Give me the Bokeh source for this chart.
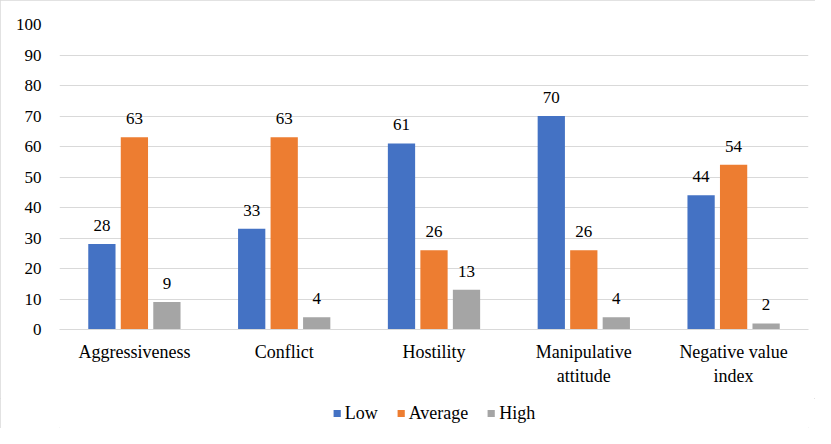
from bokeh.plotting import figure
from bokeh.layouts import column
from bokeh.models import ColumnDataSource, FactorRange, Legend, LegendItem, SingleIntervalTicker
from bokeh.transform import dodge
from bokeh.embed import file_html
from bokeh.resources import INLINE
from bokeh.core.properties import value

categories = ["Aggressiveness", "Conflict", "Hostility", "Manipulative\nattitude", "Negative value\nindex"]
low = [28, 33, 61, 70, 44]
average = [63, 63, 26, 26, 54]
high = [9, 4, 13, 4, 2]
series_names = ["Low", "Average", "High"]
colors = ["#4472C4", "#ED7D31", "#A5A5A5"]

FONT = "Liberation Serif"

src = ColumnDataSource(dict(cat=categories, low=low, average=average, high=high,
                            low_s=[str(v) for v in low], average_s=[str(v) for v in average],
                            high_s=[str(v) for v in high]))

p = figure(width=815, height=398, x_range=FactorRange(factors=categories, range_padding=0),
           y_range=(0, 100), output_backend="svg", toolbar_location=None,
           min_border_left=59, min_border_right=7, min_border_top=24, min_border_bottom=69)

offsets = [-0.217, 0.0, 0.217]
keys = ["low", "average", "high"]
for k, off, col in zip(keys, offsets, colors):
    p.vbar(x=dodge("cat", off, range=p.x_range), top=k, width=0.182, source=src,
           fill_color=col, line_color=None)
    p.text(x=dodge("cat", off, range=p.x_range), y=k, text=k + "_s", source=src,
           text_align="center", text_baseline="bottom", y_offset=-13,
           text_font=value(FONT), text_font_size="17px", text_color="#000000")

p.outline_line_color = None
p.background_fill_color = "white"
p.border_fill_color = "white"

p.xgrid.grid_line_color = None
p.ygrid.grid_line_color = "#D9D9D9"
p.ygrid.grid_line_width = 1

p.yaxis.ticker = SingleIntervalTicker(interval=10)
p.yaxis.axis_line_color = None
p.yaxis.major_tick_line_color = None
p.yaxis.minor_tick_line_color = None
p.yaxis.major_label_text_font = FONT
p.yaxis.major_label_text_font_size = "17px"
p.yaxis.major_label_text_color = "#000000"
p.yaxis.major_label_standoff = 12

p.xaxis.axis_line_color = "#D9D9D9"
p.xaxis.axis_line_width = 1
p.xaxis.major_tick_line_color = None
p.xaxis.minor_tick_line_color = None
p.xaxis.major_label_text_font = FONT
p.xaxis.major_label_text_font_size = "18px"
p.xaxis.major_label_text_color = "#000000"
p.xaxis.major_label_standoff = 6

# legend strip below the chart (swatches drawn from off-screen placeholder bars)
lg = figure(width=815, height=30, x_range=(0, 1), y_range=(0, 1), output_backend="svg",
            toolbar_location=None, x_axis_location=None, y_axis_location=None,
            min_border_left=0, min_border_right=0, min_border_top=0, min_border_bottom=0)
lg.outline_line_color = None
lg.xgrid.grid_line_color = None
lg.ygrid.grid_line_color = None
lg.border_fill_color = "white"
lg.background_fill_color = "white"
offscreen = ColumnDataSource(dict(x=[-10.0], top=[-10.0]))
items = []
for n, col in zip(series_names, colors):
    r = lg.vbar(x="x", top="top", width=0.1, source=offscreen, fill_color=col, line_color=None)
    items.append(LegendItem(label=n, renderers=[r]))
legend = Legend(items=items, orientation="horizontal", location="center",
                label_text_font=FONT, label_text_font_size="18px", label_text_color="#000000",
                glyph_width=9, glyph_height=9, spacing=18, label_standoff=4,
                border_line_color=None, background_fill_alpha=0, padding=2, margin=0)
lg.add_layout(legend, "center")

layout = column(p, lg, spacing=0)
layout.styles = {"outline": "1px solid #D9D9D9", "outline-offset": "-1px"}

open("out.html", "w").write(file_html(layout, INLINE))
